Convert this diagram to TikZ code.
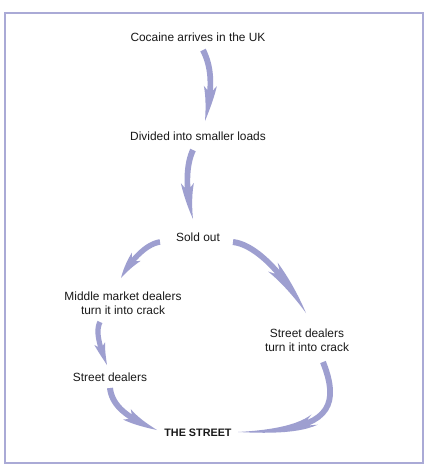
\documentclass[tikz,border=0pt]{standalone}
\usepackage{fontspec}
\setmainfont{Liberation Sans}
\usetikzlibrary{calc}
\definecolor{arrowcol}{RGB}{158,159,208}
\definecolor{framecol}{RGB}{170,170,214}
\tikzset{
  lbl/.style={inner sep=0pt, align=center, text=black!90, font=\fontsize{11.9}{14}\selectfont},
  boldlbl/.style={inner sep=0pt, text=black!90, font=\fontsize{10.8}{13}\selectfont\bfseries},
}
% #1 start, #2 control 1 (relative), #3 control 2 (relative), #4 end,
% #5 barb parameter, #6 half width at start, #7 half width at barb, #8 barb half width
\newcommand\tarrow[8]{%
  \foreach \k in {0,...,12}{%
    \pgfmathsetmacro\tpos{#5*\k/12}%
    \pgfmathsetmacro\tfw{\tpos+0.004}%
    \pgfmathsetmacro\ww{#6+(#7-#6)*\k/12}%
    \path #1 .. controls #2 and #3 .. #4 coordinate[pos=\tpos] (P) coordinate[pos=\tfw] (Q);
    \coordinate (BL\k) at ($(P)!\ww pt!90:(Q)$);
    \coordinate (BR\k) at ($(P)!\ww pt!-90:(Q)$);
  }%
  \foreach \k in {0,...,12}{%
    \pgfmathsetmacro\tpos{(#5-0.06)+(1-#5+0.06)*\k/12}%
    \pgfmathsetmacro\tfw{\tpos+0.004}%
    \pgfmathsetmacro\ww{#8*(1-\k/12)}%
    \path #1 .. controls #2 and #3 .. #4 coordinate[pos=\tpos] (P) coordinate[pos=\tfw] (Q);
    \coordinate (HL\k) at ($(P)!\ww pt!90:(Q)$);
    \coordinate (HR\k) at ($(P)!\ww pt!-90:(Q)$);
  }%
  \fill[arrowcol] (BL0) \foreach \k in {1,...,12}{--(BL\k)}
    \foreach \k in {0,...,12}{--(HL\k)}
    \foreach \k in {11,10,...,0}{--(HR\k)}
    \foreach \k in {12,11,...,0}{--(BR\k)} -- cycle;
}
\begin{document}
\begin{tikzpicture}[x=1pt,y=-1pt]
\useasboundingbox (0,0) rectangle (426,472);
\fill[white] (0,0) rectangle (426,472);
\draw[framecol, line width=2pt] (5,13) rectangle (423,463);

\node[lbl] (coc) at (198,37) {Cocaine arrives in the UK};
\node[lbl] (div) at (198,136) {Divided into smaller loads};
\node[lbl] (sold) at (198,237) {Sold out};
\node[lbl] (mid) at (123,303) {Middle market dealers\\turn it into crack};
\node[lbl] (sdr) at (307,340) {Street dealers\\turn it into crack};
\node[lbl] (sdl) at (110,377) {Street dealers};
\node[boldlbl] (street) at (198,433) {THE STREET};

\tarrow{($(coc)+(5,13)$)}{+(10,20)}{+(7,-30)}{($(div)+(7,-15)$)}{0.62}{3}{2.8}{6.5}
\tarrow{($(div)+(-5,14)$)}{+(-7,15)}{+(-8,-30)}{($(sold)+(-5,-18)$)}{0.62}{3}{2.8}{6.5}
\tarrow{($(sold)+(-38,5)$)}{+(-15,2)}{+(8,-15)}{($(mid)+(-2,-25)$)}{0.6}{2.8}{2.6}{6}
\tarrow{($(sold)+(35,5)$)}{+(25,3)}{+(-20,-35)}{($(sdr)+(-1,-27)$)}{0.58}{3}{2.8}{6.5}
\tarrow{($(mid)+(-23,19)$)}{+(-5,10)}{+(-7,-18)}{($(sdl)+(-3,-12)$)}{0.63}{2.7}{2.5}{5.5}
\tarrow{($(sdl)+(0,11)$)}{+(2,20)}{+(-25,-10)}{($(street)+(-41,-3)$)}{0.6}{3}{2.8}{6.5}
\tarrow{($(sdr)+(16,22)$)}{+(20,50)}{+(85,0)}{($(street)+(40,-1)$)}{0.62}{3}{2.8}{6}
\end{tikzpicture}
\end{document}
